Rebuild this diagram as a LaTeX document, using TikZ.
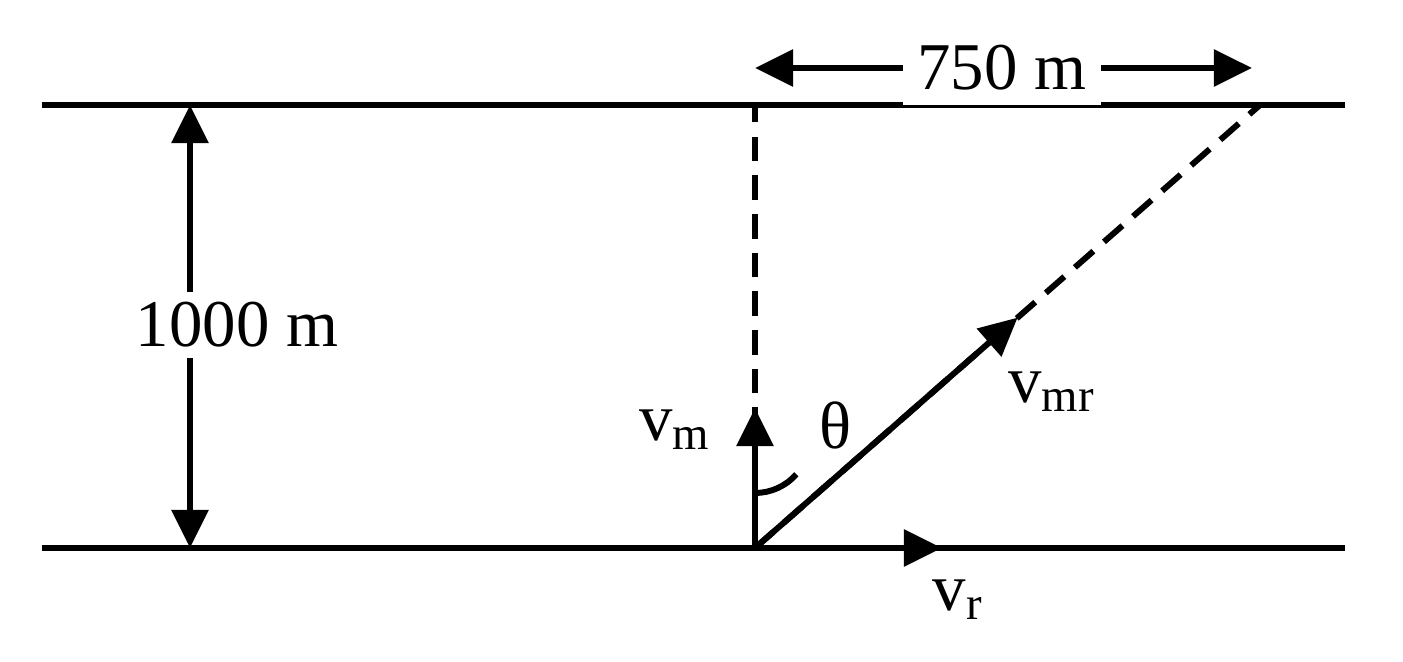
\documentclass[tikz,border=0pt]{standalone}
\usepackage{fontspec}
\setmainfont{Liberation Serif}
\usetikzlibrary{arrows.meta,calc}
\begin{document}
\begin{tikzpicture}[x=0.01cm,y=-0.01cm, line width=1.7pt,
  bank/.style={line width=1.9pt},
  vec/.style={-{Triangle[length=0.38cm,width=0.36cm]}},
  dvec/.style={{Triangle[length=0.38cm,width=0.36cm]}-{Triangle[length=0.38cm,width=0.36cm]}},
  path/.style={dashed, dash pattern=on 7pt off 4pt},
  lbl/.style={font=\fontsize{19}{22}\selectfont, inner sep=1pt}]
\useasboundingbox (0,0) rectangle (1403,662);
% river banks
\coordinate (tl) at (42,105); \coordinate (tr) at (1345,105);
\coordinate (bl) at (42,548); \coordinate (br) at (1345,548);
\draw [bank] (tl) -- (tr);
\draw [bank] (bl) -- (br);
% start, target points
\coordinate (start) at (755,548);
\coordinate (opp) at (755,105);
\coordinate (land) at (1260,105);
% width of river
\coordinate (wt) at (190,105); \coordinate (wb) at (190,548);
\draw [dvec] (wt) -- (wb);
\node [lbl, fill=white, inner sep=3pt] (width) at (237,325) {1000 m};
% drift
\coordinate (dl) at (755,68); \coordinate (dr) at (1252,68);
\draw [dvec] (dl) -- (dr);
\node [lbl, fill=white, inner sep=4pt] (drift) at (1002,68) {750 m};
% dashed paths
\draw [path] (start) -- (opp);
\draw [path] (start) -- (land);
% velocities
\coordinate (vmtip) at (755,408);
\draw [vec] (start) -- (vmtip);
\coordinate (vmrtip) at ($(start)!0.52!(land)$);
\draw [vec] (start) -- (vmrtip);
\coordinate (vrtip) at (942,548);
\draw [vec] (start) -- (vrtip);
% angle
\draw (755,493) arc[start angle=90, end angle=41.3, radius=55];
% labels
\node [lbl] (vm) at (675,430) {v\textsubscript{m}};
\node [lbl] (theta) at (835,425) {θ};
\node [lbl] (vmr) at (1052,392) {v\textsubscript{mr}};
\node [lbl] (vr) at (958,600) {v\textsubscript{r}};
\end{tikzpicture}
\end{document}
